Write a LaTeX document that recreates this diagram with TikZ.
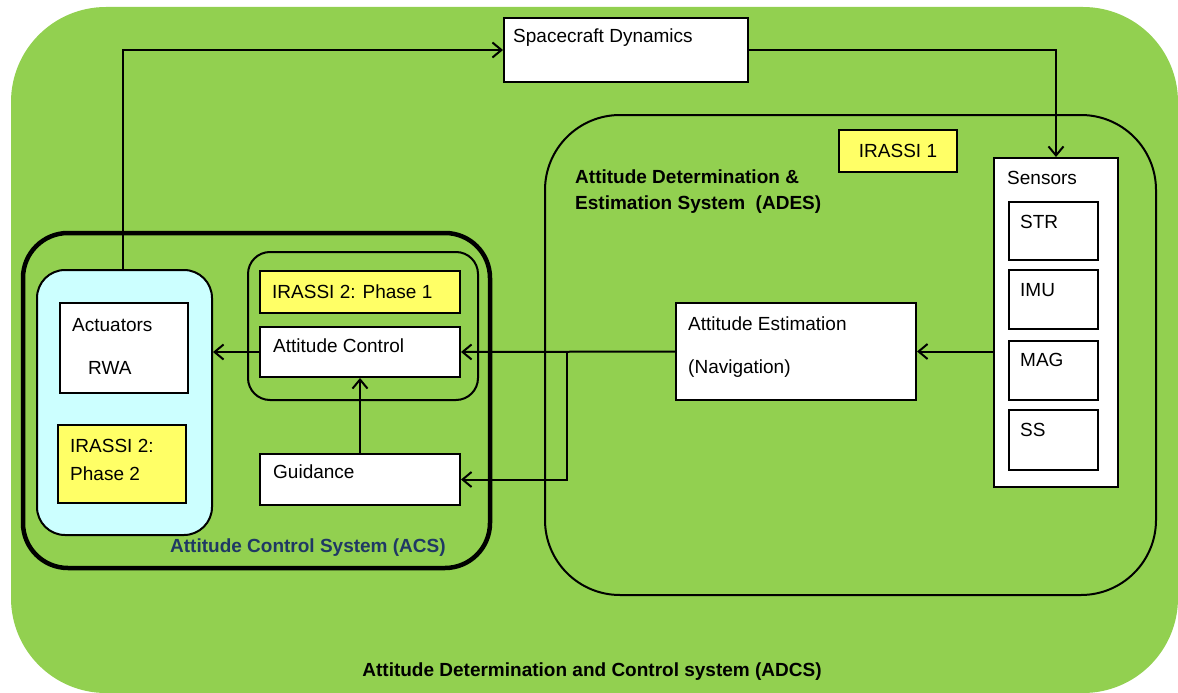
\documentclass[tikz,border=0pt]{standalone}
\usepackage{fontspec}
\setmainfont{Liberation Sans}
\usetikzlibrary{fit,arrows.meta}
\definecolor{adcsgreen}{HTML}{92D050}
\definecolor{irassi}{HTML}{FFFF66}
\definecolor{actblue}{HTML}{CCFFFF}
\definecolor{acsblue}{HTML}{1F3864}
\begin{document}
\begin{tikzpicture}[x=1pt,y=-1pt,
  box/.style={draw=black, fill=white, line width=2pt, inner sep=0pt},
  ybox/.style={box, fill=irassi},
  grp/.style={draw=black, line width=2pt, inner sep=0pt, rounded corners=#1},
  txt/.style={anchor=west, inner sep=0pt, font=\fontsize{19}{22}\selectfont},
  btxt/.style={anchor=west, inner sep=0pt, font=\fontsize{19}{22}\selectfont\bfseries},
  conn/.style={line width=2pt, -{Straight Barb[length=9pt,width=15pt,line width=2pt]}}
]
\useasboundingbox (0,0) rectangle (1178,693);
\fill[white] (0,0) rectangle (1178,693);
% outer ADCS area
\node[fit={(11,7) (1178,693)}, fill=adcsgreen, inner sep=0pt, rounded corners=95pt] (adcs) {};
\node[btxt, anchor=center] (adcsl) at (592,672) {Attitude Determination and Control system (ADCS)};

% spacecraft dynamics
\node[box, fit={(504,18) (748,82)}] (sd) {};
\node[txt] (sdl) at (513,38) {Spacecraft Dynamics};

% ADES
\node[grp=75pt, fit={(545,115) (1156,595)}] (ades) {};
\node[btxt] (adesl1) at (575,177) {Attitude Determination \&};
\node[btxt] (adesl2) at (575,205) {Estimation System\ \ (ADES)};
\node[ybox, fit={(839,130) (957,172)}] (ir1) {};
\node[txt, anchor=center] (ir1l) at (ir1.center) {IRASSI 1};

% sensors
\node[box, fit={(994,158) (1118,487)}] (sens) {};
\node[txt] (sensl) at (1007,178) {Sensors};
\node[box, fit={(1009,202) (1098,260)}] (str) {};
\node[txt] (strl) at (1020,222) {STR};
\node[box, fit={(1009,270) (1098,329)}] (imu) {};
\node[txt] (imul) at (1020,290) {IMU};
\node[box, fit={(1009,341) (1098,400)}] (mag) {};
\node[txt] (magl) at (1020,360) {MAG};
\node[box, fit={(1009,410) (1098,470)}] (ss) {};
\node[txt] (ssl) at (1020,430) {SS};

% attitude estimation
\node[box, fit={(676,303) (916,400)}] (est) {};
\node[txt] (estl1) at (688,324) {Attitude Estimation};
\node[txt] (estl2) at (688,369) {(Navigation)};

% ACS
\node[grp=45pt, line width=4.5pt, fit={(23,233) (490,568)}] (acs) {};
\node[btxt, text=acsblue] (acsl) at (170,548) {Attitude Control System (ACS)};
\node[grp=28pt, fill=actblue, fit={(37,270) (212,535)}] (actg) {};
\node[box, fit={(60,303) (188,393)}] (act) {};
\node[txt] (actl) at (72,325) {Actuators};
\node[txt] (rwal) at (88,368) {RWA};
\node[ybox, fit={(58,425) (186,503)}] (ph2) {};
\node[txt] (ph2l1) at (70,446) {IRASSI 2:};
\node[txt] (ph2l2) at (70,474) {Phase 2};
\node[grp=22pt, fit={(248,252) (478,400)}] (ctrlg) {};
\node[ybox, fit={(260,271) (460,313)}] (ph1) {};
\node[txt] (ph1l) at (272,292) {IRASSI 2: Phase 1};
\node[box, fit={(260,327) (460,377)}] (ctrl) {};
\node[txt] (ctrll) at (273,346) {Attitude Control};
\node[box, fit={(260,454) (460,505)}] (guid) {};
\node[txt] (guidl) at (273,472) {Guidance};

% connectors
\coordinate (up) at (123,50);
\coordinate (br) at (567,352);
\draw[conn] (actg.north -| up) -- (up) -- (sd.west);
\draw[conn] (sd.east) -| (sens.north);
\draw[conn] (sens.west |- est.east) -- (est.east);
\draw[conn] (est.west) -- (ctrl.east);
\draw[conn] (br) |- (guid.east);
\draw[conn] (guid.north) -- (ctrl.south);
\draw[conn] (ctrl.west) -- (ctrl.west -| actg.east);
\end{tikzpicture}
\end{document}
